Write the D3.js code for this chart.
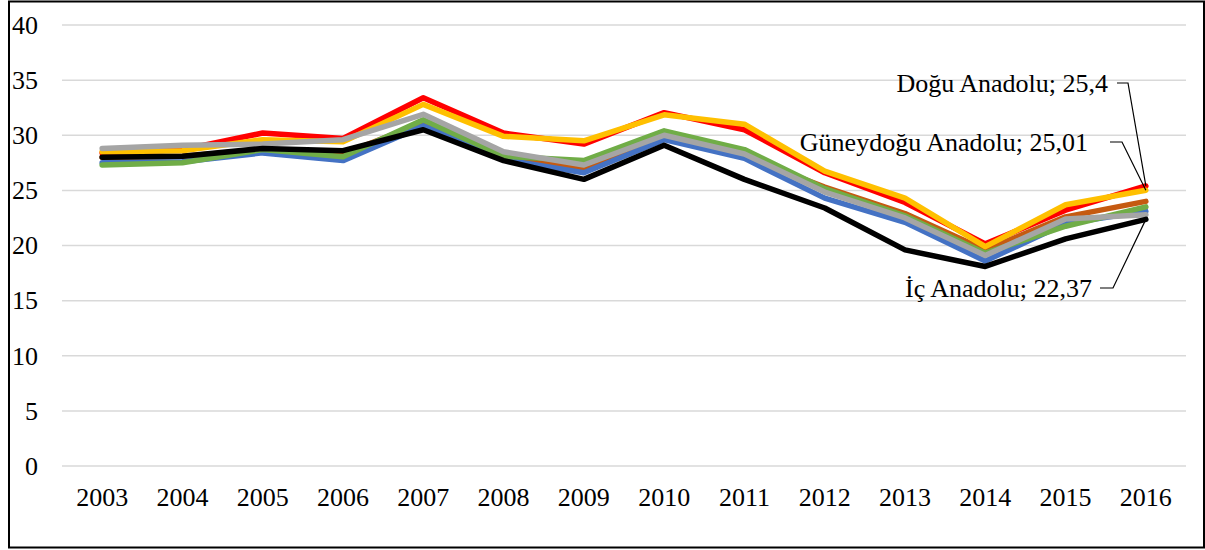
<!DOCTYPE html>
<html>
<head>
<meta charset="utf-8">
<script src="https://cdn.jsdelivr.net/npm/d3@7"></script>
<style>
  body { margin: 0; background: #fff; }
  text { font-family: "Liberation Serif", "Times New Roman", serif; fill: #000; }
</style>
</head>
<body>
<svg id="chart" width="1205" height="550"></svg>
<script>
// years on the category axis
var years = ["2003","2004","2005","2006","2007","2008","2009","2010","2011","2012","2013","2014","2015","2016"];
var yTicks = [0, 5, 10, 15, 20, 25, 30, 35, 40];

// one array per region
var akdeniz     = [27.5, 27.6, 28.4, 27.7, 30.85, 27.8, 26.6, 29.6, 27.9, 24.3, 22.1, 18.6, 22.0, 23.1];
var doguAnadolu = [28.4, 28.7, 30.2, 29.7, 33.4, 30.2, 29.2, 32.05, 30.5, 26.6, 23.9, 20.15, 23.2, 25.4];
var ege         = [28.0, 28.1, 28.7, 28.3, 31.15, 28.0, 27.0, 29.8, 28.1, 25.3, 22.9, 19.6, 22.6, 24.0];
var guneydogu   = [28.5, 28.6, 29.6, 29.4, 32.8, 29.9, 29.5, 31.85, 31.0, 26.75, 24.3, 19.9, 23.7, 25.01];
var marmara     = [27.3, 27.5, 28.7, 28.05, 31.4, 28.1, 27.7, 30.4, 28.7, 25.15, 22.7, 19.3, 21.75, 23.5];
var karadeniz   = [28.8, 29.1, 29.2, 29.6, 31.9, 28.5, 27.3, 30.0, 28.3, 24.85, 22.5, 19.1, 22.4, 22.8];
var icAnadolu   = [28.0, 28.1, 28.8, 28.6, 30.5, 27.7, 26.0, 29.1, 26.0, 23.4, 19.6, 18.1, 20.6, 22.37];

// drawing order, last one on top
var series = [
  {name: "Doğu Anadolu", values: doguAnadolu, color: "#ff0000"},
  {name: "Ege", values: ege, color: "#c55a11"},
  {name: "Akdeniz", values: akdeniz, color: "#4472c4"},
  {name: "Güneydoğu Anadolu", values: guneydogu, color: "#ffc000"},
  {name: "Marmara", values: marmara, color: "#70ad47"},
  {name: "Karadeniz", values: karadeniz, color: "#a5a5a5"},
  {name: "İç Anadolu", values: icAnadolu, color: "#000000"}
];

var svg = d3.select("#chart");

// chart border
svg.append("rect")
  .attr("x", 9).attr("y", 1.5)
  .attr("width", 1195).attr("height", 546)
  .attr("fill", "none").attr("stroke", "#000").attr("stroke-width", 2);

var x = d3.scaleBand().domain(years).range([62, 1186]);
var y = d3.scaleLinear().domain([0, 40]).range([466, 25]);
var cx = function(d){ return x(d) + x.bandwidth() / 2; };

// gridlines
svg.append("g").selectAll("line")
  .data(yTicks).enter().append("line")
    .attr("x1", 62).attr("x2", 1186)
    .attr("y1", function(d){ return y(d); })
    .attr("y2", function(d){ return y(d); })
    .attr("stroke", "#d9d9d9").attr("stroke-width", 1.5);

// y labels
svg.append("g").selectAll("text")
  .data(yTicks).enter().append("text")
    .attr("x", 38)
    .attr("y", function(d){ return y(d); })
    .attr("dy", "0.34em")
    .attr("text-anchor", "end")
    .style("font-size", "26px")
    .text(function(d){ return d; });

// x labels
svg.append("g").selectAll("text")
  .data(years).enter().append("text")
    .attr("x", cx)
    .attr("y", 506)
    .attr("text-anchor", "middle")
    .style("font-size", "26px")
    .text(function(d){ return d; });

var line = d3.line()
  .x(function(d, i){ return cx(years[i]); })
  .y(function(d){ return y(d); });

svg.append("g").selectAll("path")
  .data(series).enter().append("path")
    .attr("d", function(s){ return line(s.values); })
    .attr("fill", "none")
    .attr("stroke", function(s){ return s.color; })
    .attr("stroke-width", 5.5)
    .attr("stroke-linejoin", "round")
    .attr("stroke-linecap", "round");

// data labels with leader lines (label boxes placed by hand)
var last = years.length - 1;
var fmt = function(v){ return String(v).replace(".", ","); };
var labels = [
  {s: series[0], tx: 1108, ty: 83, lx1: 1117, lx2: 1128},
  {s: series[3], tx: 1088, ty: 142, lx1: 1110, lx2: 1122},
  {s: series[6], tx: 1092, ty: 288, lx1: 1100, lx2: 1113}
];

labels.forEach(function(l){
  var ex = cx(years[last]), ey = y(l.s.values[last]);
  svg.append("path")
    .attr("d", "M" + l.lx1 + "," + l.ty + "H" + l.lx2 + "L" + ex + "," + ey)
    .attr("fill", "none").attr("stroke", "#000").attr("stroke-width", 1.2);
  svg.append("text")
    .attr("x", l.tx).attr("y", l.ty)
    .attr("dy", "0.34em")
    .attr("text-anchor", "end")
    .style("font-size", "26px")
    .text(l.s.name + "; " + fmt(l.s.values[last]));
});
</script>
</body>
</html>
